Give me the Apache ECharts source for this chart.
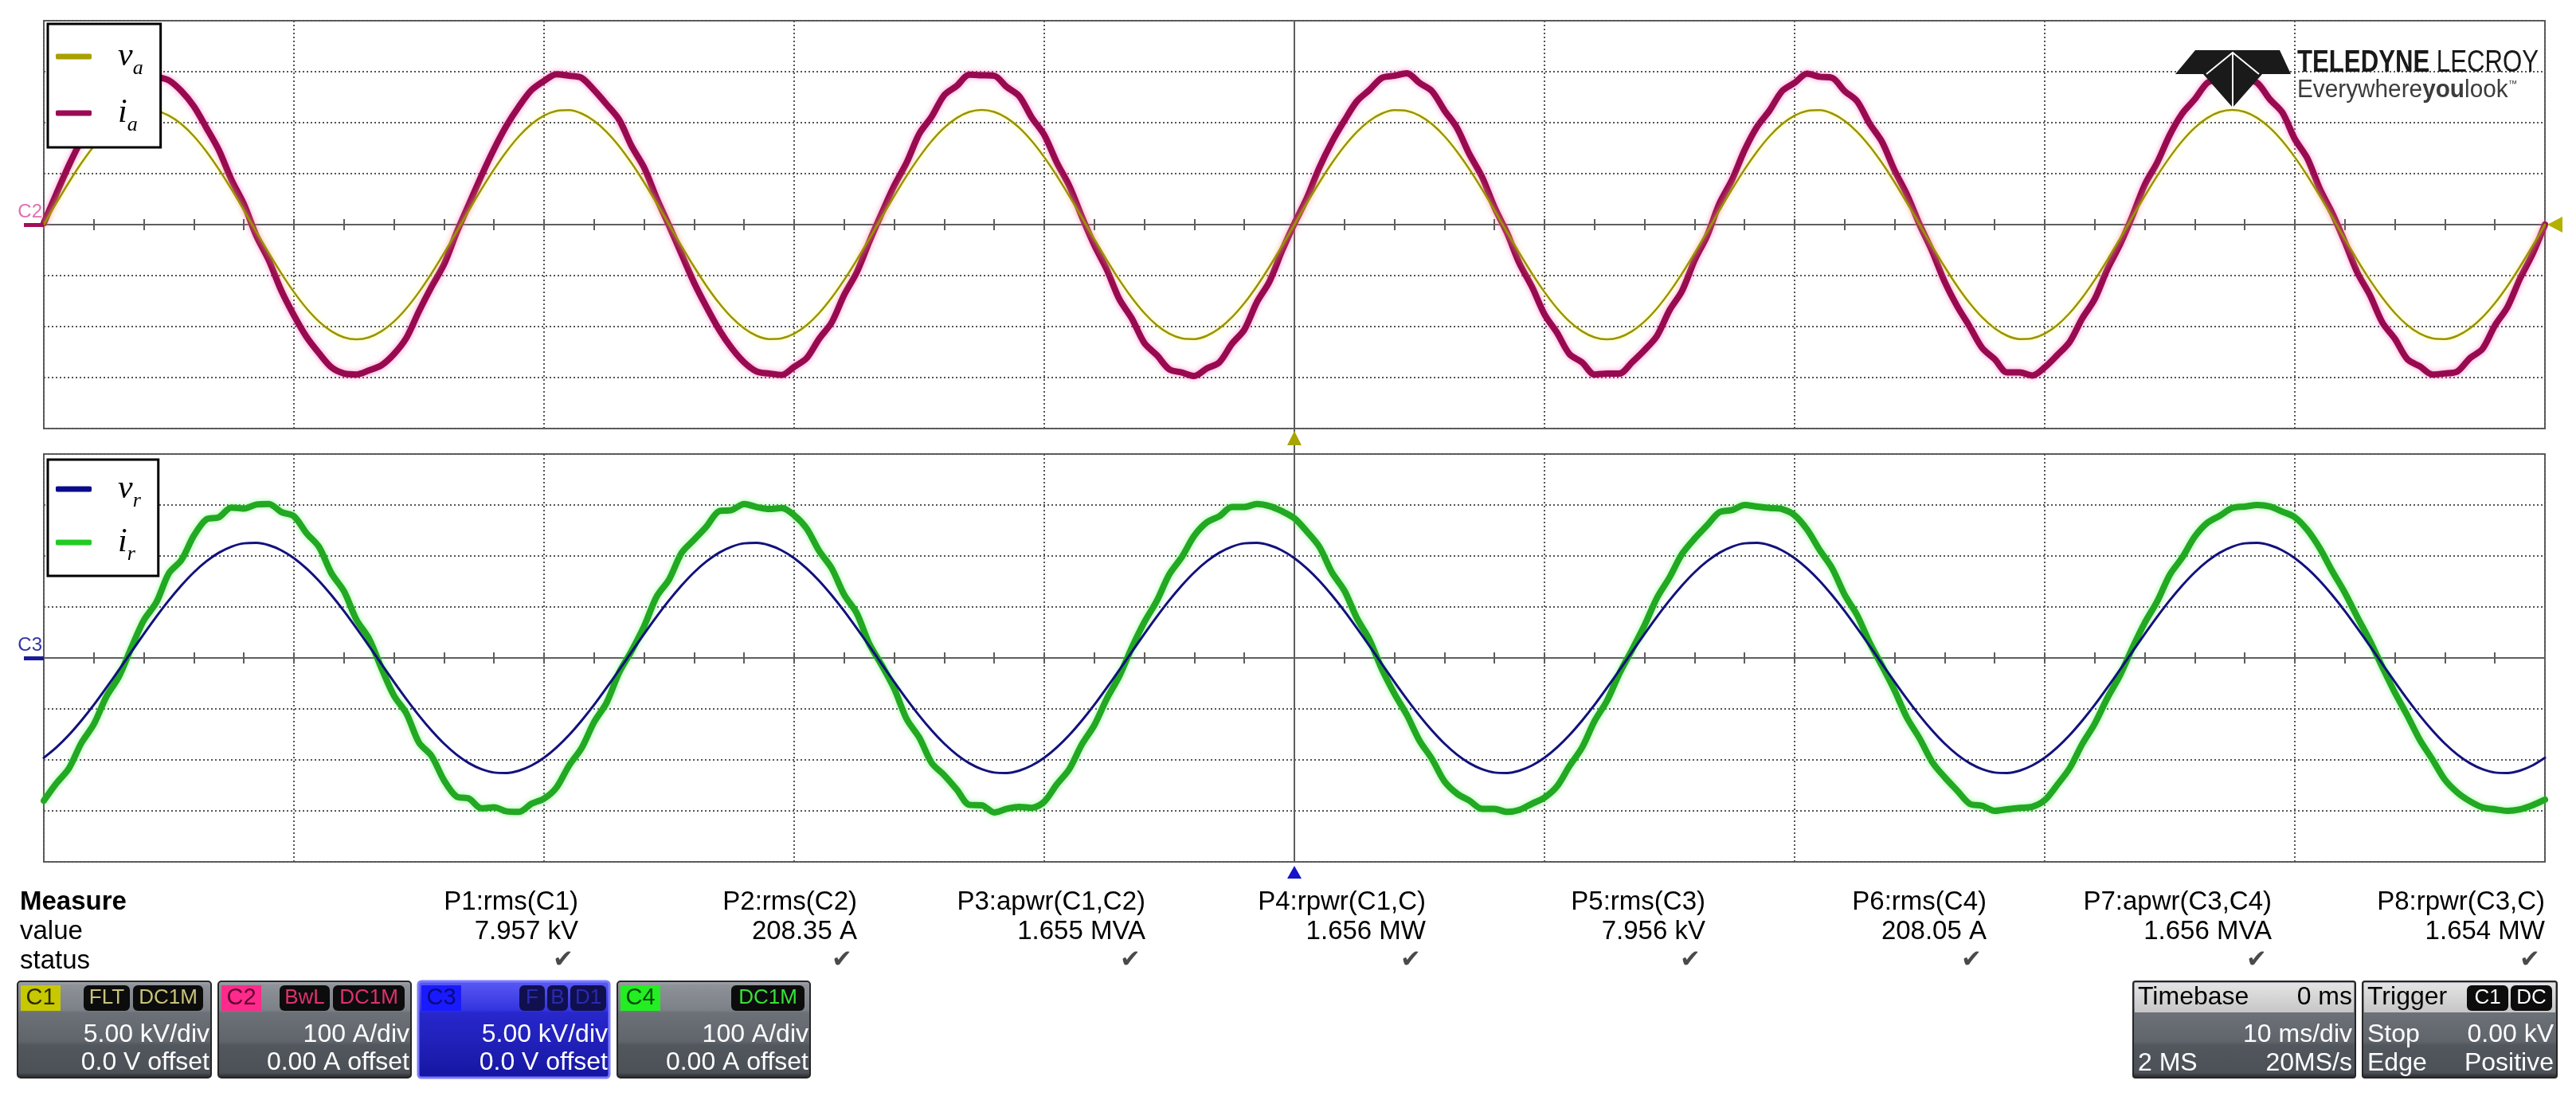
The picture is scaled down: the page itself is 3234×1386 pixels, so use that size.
<!DOCTYPE html>
<html>
<head>
<meta charset="utf-8">
<title>Oscilloscope capture</title>
<script src="https://cdn.jsdelivr.net/npm/echarts@6.0.0/dist/echarts.min.js"></script>
<style>
html,body{margin:0;padding:0;background:#ffffff;}
#chart{width:3234px;height:1386px;}
</style>
</head>
<body>
<div id="chart"></div>
<script>
// ================= DATA =================
// time in ms (10 ms/div, trigger at centre = 0 ms), 0.5 ms samples
const timeMs = [-50,-49.5,-49,-48.5,-48,-47.5,-47,-46.5,-46,-45.5,-45,-44.5,-44,-43.5,-43,-42.5,-42,-41.5,-41,-40.5,-40,-39.5,-39,-38.5,-38,-37.5,-37,-36.5,-36,-35.5,-35,-34.5,-34,-33.5,-33,-32.5,-32,-31.5,-31,-30.5,-30,-29.5,-29,-28.5,-28,-27.5,-27,-26.5,-26,-25.5,-25,-24.5,-24,-23.5,-23,-22.5,-22,-21.5,-21,-20.5,-20,-19.5,-19,-18.5,-18,-17.5,-17,-16.5,-16,-15.5,-15,-14.5,-14,-13.5,-13,-12.5,-12,-11.5,-11,-10.5,-10,-9.5,-9,-8.5,-8,-7.5,-7,-6.5,-6,-5.5,-5,-4.5,-4,-3.5,-3,-2.5,-2,-1.5,-1,-0.5,0,0.5,1,1.5,2,2.5,3,3.5,4,4.5,5,5.5,6,6.5,7,7.5,8,8.5,9,9.5,10,10.5,11,11.5,12,12.5,13,13.5,14,14.5,15,15.5,16,16.5,17,17.5,18,18.5,19,19.5,20,20.5,21,21.5,22,22.5,23,23.5,24,24.5,25,25.5,26,26.5,27,27.5,28,28.5,29,29.5,30,30.5,31,31.5,32,32.5,33,33.5,34,34.5,35,35.5,36,36.5,37,37.5,38,38.5,39,39.5,40,40.5,41,41.5,42,42.5,43,43.5,44,44.5,45,45.5,46,46.5,47,47.5,48,48.5,49,49.5,50];
// C1: v_a (kV)
const va = [0,2.11,4.14,6.03,7.70,9.10,10.18,10.90,11.23,11.16,10.70,9.86,8.67,7.17,5.42,3.48,1.41,-0.71,-2.80,-4.79,-6.61,-8.20,-9.50,-10.46,-11.05,-11.25,-11.05,-10.46,-9.50,-8.20,-6.61,-4.79,-2.80,-0.71,1.41,3.48,5.42,7.17,8.67,9.86,10.70,11.16,11.23,10.90,10.18,9.10,7.70,6.03,4.14,2.11,
 0,-2.11,-4.14,-6.03,-7.70,-9.10,-10.18,-10.90,-11.23,-11.16,-10.70,-9.86,-8.67,-7.17,-5.42,-3.48,-1.41,0.71,2.80,4.79,6.61,8.20,9.50,10.46,11.05,11.25,11.05,10.46,9.50,8.20,6.61,4.79,2.80,0.71,-1.41,-3.48,-5.42,-7.17,-8.67,-9.86,-10.70,-11.16,-11.23,-10.90,-10.18,-9.10,-7.70,-6.03,-4.14,-2.11,
 0,2.11,4.14,6.03,7.70,9.10,10.18,10.90,11.23,11.16,10.70,9.86,8.67,7.17,5.42,3.48,1.41,-0.71,-2.80,-4.79,-6.61,-8.20,-9.50,-10.46,-11.05,-11.25,-11.05,-10.46,-9.50,-8.20,-6.61,-4.79,-2.80,-0.71,1.41,3.48,5.42,7.17,8.67,9.86,10.70,11.16,11.23,10.90,10.18,9.10,7.70,6.03,4.14,2.11,
 0,-2.11,-4.14,-6.03,-7.70,-9.10,-10.18,-10.90,-11.23,-11.16,-10.70,-9.86,-8.67,-7.17,-5.42,-3.48,-1.41,0.71,2.80,4.79,6.61,8.20,9.50,10.46,11.05,11.25,11.05,10.46,9.50,8.20,6.61,4.79,2.80,0.71,-1.41,-3.48,-5.42,-7.17,-8.67,-9.86,-10.70,-11.16,-11.23,-10.90,-10.18,-9.10,-7.70,-6.03,-4.14,-2.11,
 0];
// C2: i_a (A)
const ia = [3,60,116,166,212,244,270,284,296,290,
 283,262,232,190,146,88,40,-22,-70,-130,
 -178,-220,-252,-280,-292,-294,-286,-276,-254,-222,
 -170,-122,-78,-16,40,96,148,194,232,264,
 282,295,292,288,264,236,206,154,112,52,
 -2,-58,-114,-162,-206,-242,-270,-288,-292,-295,
 -279,-262,-224,-192,-138,-94,-34,22,76,122,
 178,212,254,272,294,293,292,270,252,210,
 176,122,76,16,-40,-88,-146,-184,-232,-256,
 -284,-290,-297,-282,-270,-234,-206,-152,-112,-52,
 2,52,112,162,204,242,264,288,292,297,
 278,262,224,190,138,94,34,-16,-76,-122,
 -176,-212,-254,-270,-294,-292,-292,-270,-246,-218,
 -168,-130,-70,-22,42,88,146,192,224,262,
 278,296,290,288,262,242,198,162,106,58,
 0,-52,-112,-160,-200,-242,-264,-290,-290,-296,
 -280,-256,-230,-184,-146,-88,-40,16,78,122,
 176,218,246,278,288,297,286,278,246,220,
 168,130,70,22,-34,-94,-138,-192,-224,-264,
 -278,-294,-292,-288,-262,-244,-198,-162,-106,-58,
 0];
// C3: v_r (kV)
const vr = [-9.79,-8.78,-7.56,-6.15,-4.60,-2.92,-1.18,0.59,2.35,4.05,5.65,7.11,8.40,9.48,10.32,10.91,11.24,11.28,11.05,10.55,9.79,8.78,7.56,6.15,4.60,2.92,1.18,-0.59,-2.35,-4.05,-5.65,-7.11,-8.40,-9.48,-10.32,-10.91,-11.24,-11.28,-11.05,-10.55,
 -9.79,-8.78,-7.56,-6.15,-4.60,-2.92,-1.18,0.59,2.35,4.05,5.65,7.11,8.40,9.48,10.32,10.91,11.24,11.28,11.05,10.55,9.79,8.78,7.56,6.15,4.60,2.92,1.18,-0.59,-2.35,-4.05,-5.65,-7.11,-8.40,-9.48,-10.32,-10.91,-11.24,-11.28,-11.05,-10.55,
 -9.79,-8.78,-7.56,-6.15,-4.60,-2.92,-1.18,0.59,2.35,4.05,5.65,7.11,8.40,9.48,10.32,10.91,11.24,11.28,11.05,10.55,9.79,8.78,7.56,6.15,4.60,2.92,1.18,-0.59,-2.35,-4.05,-5.65,-7.11,-8.40,-9.48,-10.32,-10.91,-11.24,-11.28,-11.05,-10.55,
 -9.79,-8.78,-7.56,-6.15,-4.60,-2.92,-1.18,0.59,2.35,4.05,5.65,7.11,8.40,9.48,10.32,10.91,11.24,11.28,11.05,10.55,9.79,8.78,7.56,6.15,4.60,2.92,1.18,-0.59,-2.35,-4.05,-5.65,-7.11,-8.40,-9.48,-10.32,-10.91,-11.24,-11.28,-11.05,-10.55,
 -9.79,-8.78,-7.56,-6.15,-4.60,-2.92,-1.18,0.59,2.35,4.05,5.65,7.11,8.40,9.48,10.32,10.91,11.24,11.28,11.05,10.55,9.79,8.78,7.56,6.15,4.60,2.92,1.18,-0.59,-2.35,-4.05,-5.65,-7.11,-8.40,-9.48,-10.32,-10.91,-11.24,-11.28,-11.05,-10.55,
 -9.79];
// C4: i_r (A)
const ir = [-280,-246,-217,-167,-130,-76,-37,20,74,109,166,192,240,272,276,295,293,301,302,286,278,245,218,166,131,75,38,-20,-74,-109,-166,-192,-240,-272,-276,-295,-293,-301,-302,-286,
 -276,-254,-211,-177,-126,-88,-29,14,62,120,154,206,232,258,288,290,302,296,292,294,280,254,210,176,124,88,28,-14,-60,-120,-156,-206,-230,-258,-288,-289,-303,-296,-292,-294,
 -282,-248,-218,-170,-132,-80,-36,20,70,112,164,198,240,266,278,296,296,302,298,288,274,248,218,168,132,78,36,-22,-70,-112,-162,-198,-242,-266,-280,-296,-296,-302,-298,-286,
 -274,-252,-212,-176,-124,-84,-30,16,64,118,158,204,234,260,286,290,300,297,294,292,280,252,212,176,124,84,30,-16,-64,-118,-158,-204,-234,-260,-286,-290,-300,-297,-294,-292,
 -279,-249,-216,-169,-129,-79,-35,19,69,111,163,197,238,265,279,294,297,300,297,287,276,251,215,170,128,80,34,-18,-68,-113,-161,-199,-239,-264,-281,-293,-297,-300,-297,-289,
 -278];

const legendTop = ['va','ia'];
const legendBottom = ['vr','ir'];
const measureNames = ['P1:rms(C1)','P2:rms(C2)','P3:apwr(C1,C2)','P4:rpwr(C1,C)','P5:rms(C3)','P6:rms(C4)','P7:apwr(C3,C4)','P8:rpwr(C3,C)'];
const measureValues = ['7.957 kV','208.35 A','1.655 MVA','1.656 MW','7.956 kV','208.05 A','1.656 MVA','1.654 MW'];
const channelTags = ['C1','C2','C3','C4'];
const channelScale = ['5.00 kV/div','100 A/div','5.00 kV/div','100 A/div'];
const channelOffset = ['0.0 V offset','0.00 A offset','0.0 V offset','0.00 A offset'];

// ================= STYLE =================
const COL = {va:'#9a9400', ia:'#980a50', vr:'#12127c', ir:'#22a822'};
const ICON = {va:'#a8a000', ia:'#9b0b55', vr:'#0a0a8a', ir:'#22cc22'};
const SANS = '"Liberation Sans", Arial, sans-serif';
const SERIF = '"Liberation Serif", "Times New Roman", serif';
const GRIDDOT = {color:'#555555', width:2, type:[2,3]};
const AXL = {color:'#5e5e5e', width:2};

const pairs = ys => timeMs.map((t,i)=>[t, ys[i]]);

function xAx(grid, pos, onZeroIdx, split){
  return {gridIndex:grid, type:'value', min:-50, max:50, interval:10, position:pos,
    axisLine:{show:true, onZero:true, onZeroAxisIndex:onZeroIdx, lineStyle:AXL},
    axisTick:{show:true, inside:false, length:7, lineStyle:AXL},
    minorTick:{show:true, splitNumber:5, length:7, lineStyle:AXL},
    axisLabel:{show:false}, splitLine:{show:split, lineStyle:GRIDDOT}, minorSplitLine:{show:false}};
}
function yV(grid, onZeroIdx){
  return {gridIndex:grid, type:'value', min:-20, max:20, interval:5,
    axisLine:{show:true, onZero:true, onZeroAxisIndex:onZeroIdx, lineStyle:AXL},
    axisTick:{show:false}, axisLabel:{show:false}, splitLine:{show:true, lineStyle:GRIDDOT}};
}
function yI(grid){
  return {gridIndex:grid, type:'value', min:-400, max:400, interval:100, show:false, splitLine:{show:false}};
}

const legendNames = {va:'{m|v}{s|a}', ia:'{m|i}{s|a}', vr:'{m|v}{s|r}', ir:'{m|i}{s|r}'};
const legendRich = {
  m:{fontFamily:SERIF, fontStyle:'italic', fontSize:42, lineHeight:40, color:'#000', padding:[0,0,0,28]},
  s:{fontFamily:SERIF, fontStyle:'italic', fontSize:26, lineHeight:40, color:'#000', padding:[30,0,0,0]}
};
function legendCfg(names, top, gap, pad){
  return {data:names, left:60, top:top, orient:'vertical', icon:'roundRect', itemWidth:45, itemHeight:7,
    itemGap:gap, padding:pad, backgroundColor:'#fff', borderColor:'#000', borderWidth:3, borderRadius:0,
    selectedMode:false, formatter:n=>legendNames[n], textStyle:{rich:legendRich}};
}

function lineSeries(name, xi, yi, data, width, z, halo){
  const s = {name, type:'line', xAxisIndex:xi, yAxisIndex:yi, data:pairs(data), showSymbol:false, smooth:0.3,
    lineStyle:{color:COL[name], width:width, cap:'round', join:'round'}, itemStyle:{color:ICON[name]}, z:z, animation:false};
  if (halo) { s.lineStyle.shadowColor = halo; s.lineStyle.shadowBlur = 6; }
  return s;
}

const option = {
  backgroundColor:'#ffffff',
  animation:false,
  grid:[
    {left:55, top:26, width:3140, height:512, show:true, borderColor:'#5e5e5e', borderWidth:2},
    {left:55, top:570, width:3140, height:512, show:true, borderColor:'#5e5e5e', borderWidth:2}
  ],
  xAxis:[xAx(0,'bottom',0,true), xAx(0,'top',0,false), xAx(1,'bottom',2,true), xAx(1,'top',2,false)],
  yAxis:[yV(0,0), yI(0), yV(1,2), yI(1)],
  legend:[legendCfg(legendTop, 30, 15, [13,22,15,10]), legendCfg(legendBottom, 577, 11, [9,22,14,10])],
  series:[
    lineSeries('ia',0,1,ia,8,2,'rgba(255,60,170,0.55)'),
    lineSeries('va',0,0,va,2.5,3,'rgba(255,255,120,0.8)'),
    lineSeries('ir',2,3,ir,8,2,'rgba(80,255,80,0.55)'),
    lineSeries('vr',2,2,vr,3,3,null)
  ]
};

const chart = echarts.init(document.getElementById('chart'), null, {renderer:'canvas', width:3234, height:1386});
chart.setOption(option);

// ================= ANNOTATIONS =================
function txt(text, x, y, size, opts){
  opts = opts || {};
  return {type:'text', z:50, style:{text, x, y, fontSize:size, fontFamily:opts.family||SANS, fontWeight:opts.weight||'normal',
    fill:opts.fill||'#000', align:opts.align||'left', textAlign:opts.align||'left', verticalAlign:'middle', textVerticalAlign:'middle'}};
}
function rect(x,y,w,h,fill,opts){
  opts = opts || {};
  return {type:'rect', z:opts.z||40, shape:{x,y,width:w,height:h,r:opts.r||0}, style:{fill, stroke:opts.stroke||null, lineWidth:opts.lw||0}};
}
function vgrad(stops){ return {type:'linear', x:0, y:0, x2:0, y2:1, colorStops:stops.map(s=>({offset:s[0], color:s[1]}))}; }

const z0 = chart.convertToPixel({gridIndex:0}, [0,0]);
const z1 = chart.convertToPixel({gridIndex:1}, [0,0]);
const topBottom = chart.convertToPixel({gridIndex:0}, [0,-20])[1];
const botTop = chart.convertToPixel({gridIndex:1}, [0,20])[1];
const botBottom = chart.convertToPixel({gridIndex:1}, [0,-20])[1];
const rightEdge = chart.convertToPixel({gridIndex:0}, [50,0])[0];
const leftEdge = chart.convertToPixel({gridIndex:0}, [-50,0])[0];

const g = [];
g.push({type:'line', z:30, shape:{x1:z0[0], y1:topBottom, x2:z0[0], y2:botTop}, style:{stroke:'#5e5e5e', lineWidth:2}});
g.push({type:'polygon', z:45, shape:{points:[[z0[0],topBottom+3],[z0[0]-9,topBottom+21],[z0[0]+9,topBottom+21]]}, style:{fill:'#a8a400'}});
g.push({type:'polygon', z:45, shape:{points:[[z1[0],botBottom+5],[z1[0]-9,botBottom+21],[z1[0]+9,botBottom+21]]}, style:{fill:'#1414c8'}});
g.push({type:'polygon', z:45, shape:{points:[[rightEdge+3,z0[1]],[rightEdge+22,z0[1]-10],[rightEdge+22,z0[1]+10]]}, style:{fill:'#b4b000'}});
g.push(txt('C2', leftEdge-2, z0[1]-16, 24, {fill:'#e070b0', align:'right'}));
g.push(rect(leftEdge-25, z0[1]-2, 25, 5, '#a0105a'));
g.push(txt('C3', leftEdge-2, z1[1]-16, 24, {fill:'#3434a8', align:'right'}));
g.push(rect(leftEdge-25, z1[1]-2, 25, 5, '#1a1a9a'));

// Teledyne LeCroy logo
g.push({type:'polygon', z:60, shape:{points:[[2756,63],[2862,63],[2876,93],[2731,93]]}, style:{fill:'#1a1a1a'}});
g.push({type:'polygon', z:60, shape:{points:[[2766,93],[2840,93],[2803,135]]}, style:{fill:'#1a1a1a'}});
g.push({type:'polyline', z:61, shape:{points:[[2770,93],[2803,66],[2836,93]]}, style:{stroke:'#ffffff', lineWidth:2, fill:null}});
g.push({type:'line', z:61, shape:{x1:2803, y1:66, x2:2803, y2:135}, style:{stroke:'#ffffff', lineWidth:2}});
g.push({type:'text', z:60, x:2884, y:80, scaleX:0.82, style:{text:'{b|TELEDYNE}{r| LECROY}', x:0, y:0, verticalAlign:'middle', textVerticalAlign:'middle',
  rich:{b:{fontFamily:SANS, fontWeight:'bold', fontSize:38, fill:'#1a1a1a'}, r:{fontFamily:SANS, fontSize:38, fill:'#1a1a1a'}}}});
g.push({type:'text', z:60, x:2884, y:113, scaleX:0.96, style:{text:'{n|Everywhere}{b|you}{n|look}{t|™}', x:0, y:0, verticalAlign:'middle', textVerticalAlign:'middle',
  rich:{n:{fontFamily:SANS, fontSize:31, fill:'#3c3c3c'}, b:{fontFamily:SANS, fontWeight:'bold', fontSize:31, fill:'#3c3c3c'}, t:{fontFamily:SANS, fontSize:12, fill:'#3c3c3c', padding:[0,0,14,0]}}}});

// measurement table
const MX = [726, 1076, 1438, 1790, 2141, 2494, 2852, 3195];
g.push(txt('Measure', 25, 1133, 33, {weight:'bold'}));
g.push(txt('value', 25, 1170, 33));
g.push(txt('status', 25, 1207, 33));
measureNames.forEach((n,i)=>{
  g.push(txt(n, MX[i], 1133, 33, {align:'right'}));
  g.push(txt(measureValues[i], MX[i], 1170, 33, {align:'right'}));
  g.push(txt('\u2714', MX[i]-6, 1206, 31, {align:'right', fill:'#4a4a4a', family:'"DejaVu Sans", sans-serif'}));
});

// channel descriptor boxes
const BY = 1232, BH = 121;
const chBoxes = [
  {x:22, w:243, tagFill:'#c8c800', tagText:'#2a2a00', badges:[[105,58,'FLT'],[167,88,'DC1M']], badgeText:'#c9c27a', blue:false},
  {x:274, w:242, tagFill:'#ff2a8c', tagText:'#600030', badges:[[351,63,'BwL'],[418,90,'DC1M']], badgeText:'#e0306f', blue:false},
  {x:525, w:240, tagFill:'#1a1aff', tagText:'#0a0a80', badges:[[652,32,'F'],[687,26,'B'],[716,45,'D1']], badgeText:'#2a2ab0', blue:true},
  {x:775, w:242, tagFill:'#22ee22', tagText:'#0a4a0a', badges:[[918,92,'DC1M']], badgeText:'#38e038', blue:false}
];
const grayFill = vgrad([[0,'#a9adb2'],[0.05,'#8e9298'],[0.30,'#7c8087'],[0.33,'#6c7178'],[0.62,'#60656c'],[0.66,'#52575e'],[0.94,'#4c5057'],[1,'#222']]);
const blueFill = vgrad([[0,'#5a5af5'],[0.3,'#3535e0'],[0.33,'#2727cc'],[0.65,'#2020b8'],[1,'#1515a0']]);
chBoxes.forEach((b,i)=>{
  g.push(rect(b.x, BY, b.w, BH, b.blue?blueFill:grayFill, {r:4, stroke:b.blue?'#7a7aff':'#262626', lw:b.blue?3:2}));
  g.push(rect(b.x+4, BY+5, 50, 32, b.tagFill, {z:41}));
  g.push(txt(channelTags[i], b.x+29, BY+21, 29, {align:'center', fill:b.tagText}));
  b.badges.forEach(bd=>{
    g.push(rect(bd[0], BY+5, bd[1], 32, b.blue?'#101050':'#0c0c0c', {z:41, r:6}));
    g.push(txt(bd[2], bd[0]+bd[1]/2, BY+21, 26, {align:'center', fill:b.badgeText}));
  });
  g.push(txt(channelScale[i], b.x+b.w-2, 1299, 32, {align:'right', fill:'#ffffff'}));
  g.push(txt(channelOffset[i], b.x+b.w-2, 1334, 32, {align:'right', fill:'#ffffff'}));
});

// timebase / trigger boxes
const TB = {x:2678, w:279}, TR = {x:2966, w:244};
[TB, TR].forEach(b=>{
  g.push(rect(b.x, BY, b.w, BH, grayFill, {r:3, stroke:'#262626', lw:2}));
  g.push(rect(b.x+2, BY+2, b.w-4, 37, vgrad([[0,'#e4e4e4'],[1,'#c6c6c6']]), {z:41}));
});
g.push(txt('Timebase', TB.x+6, BY+20, 32));
g.push(txt('0 ms', TB.x+TB.w-4, BY+20, 32, {align:'right'}));
g.push(txt('10 ms/div', TB.x+TB.w-4, 1299, 32, {align:'right', fill:'#fff'}));
g.push(txt('2 MS', TB.x+6, 1335, 32, {fill:'#fff'}));
g.push(txt('20MS/s', TB.x+TB.w-4, 1335, 32, {align:'right', fill:'#fff'}));
g.push(txt('Trigger', TR.x+6, BY+20, 32));
g.push(rect(3097, BY+5, 52, 32, '#0c0c0c', {z:41, r:6}));
g.push(txt('C1', 3123, BY+21, 26, {align:'center', fill:'#fff'}));
g.push(rect(3152, BY+5, 52, 32, '#0c0c0c', {z:41, r:6}));
g.push(txt('DC', 3178, BY+21, 26, {align:'center', fill:'#fff'}));
g.push(txt('Stop', TR.x+6, 1299, 32, {fill:'#fff'}));
g.push(txt('0.00 kV', TR.x+TR.w-4, 1299, 32, {align:'right', fill:'#fff'}));
g.push(txt('Edge', TR.x+6, 1335, 32, {fill:'#fff'}));
g.push(txt('Positive', TR.x+TR.w-4, 1335, 32, {align:'right', fill:'#fff'}));

chart.setOption({graphic:g});
</script>
</body>
</html>
